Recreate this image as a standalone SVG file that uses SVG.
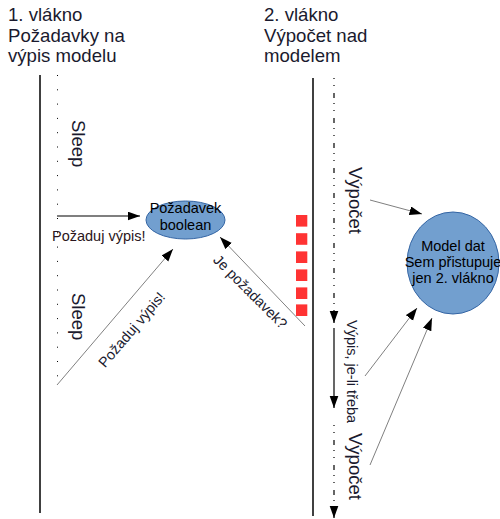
<svg xmlns="http://www.w3.org/2000/svg" width="500" height="519" viewBox="0 0 500 519">
<style>
text{font-family:"Liberation Sans",Arial,sans-serif;fill:#1a1a2e}
.h{font-size:18.6px}
.v{font-size:18.5px}
.s{font-size:14.5px}
.thread{stroke:#000;stroke-width:1.5;fill:none}
.gray{stroke:#808080;stroke-width:1;fill:none}
.blk{stroke:#000;stroke-width:1.2;fill:none}
.node{fill:#729fcf;stroke:#3465a4;stroke-width:1}
.sq{fill:#ff3333}
</style>
<defs>
<marker id="ah" markerUnits="userSpaceOnUse" markerWidth="13" markerHeight="10" refX="12.5" refY="4.5" orient="auto">
<path d="M0,0 L12.5,4.5 L0,9 z" fill="#000"/>
</marker>
</defs>
<g id="headings">
<text class="h" x="8" y="21">1. vlákno</text>
<text class="h" x="8" y="41.5">Požadavky na</text>
<text class="h" x="8" y="62">výpis modelu</text>
<text class="h" x="264" y="21">2. vlákno</text>
<text class="h" x="264" y="41.5">Výpočet nad</text>
<text class="h" x="264" y="62">modelem</text>
</g>
<g id="threads">
<line class="thread" x1="40" y1="75" x2="40" y2="513"/>
<line x1="57.5" y1="75" x2="57.5" y2="385" stroke="#000" stroke-width="1" stroke-dasharray="1 13.3"/>
<line class="thread" x1="313" y1="78" x2="313" y2="516"/>
<line x1="334" y1="78" x2="334" y2="323" stroke="#000" stroke-width="1.2" stroke-dasharray="1 6 1 7 5 5" marker-end="url(#ah)"/>
<line class="blk" x1="334" y1="328" x2="334" y2="408" marker-end="url(#ah)"/>
<line x1="334" y1="425" x2="334" y2="518" stroke="#000" stroke-width="1.2" stroke-dasharray="1 6 1 7 5 5" marker-end="url(#ah)"/>
</g>
<g id="labels">
<text class="v" transform="translate(72,120) rotate(90)">Sleep</text>
<text class="v" transform="translate(72,293) rotate(90)">Sleep</text>
<text class="v" transform="translate(349,167) rotate(90)">Výpočet</text>
<text class="s" transform="translate(347,320) rotate(90)">Výpis, je-li třeba</text>
<text class="v" transform="translate(349,433) rotate(90)">Výpočet</text>
<text class="s" x="52" y="241" style="fill:#2b1620">Požaduj výpis!</text>
<text class="s" text-anchor="middle" transform="translate(135.4,333) rotate(-49.5)">Požaduj výpis!</text>
<text class="s" text-anchor="middle" transform="translate(246.8,295.2) rotate(45)">Je požadavek?</text>
</g>
<g id="lock">
<rect class="sq" x="296" y="215" width="11.3" height="11.6"/>
<rect class="sq" x="296" y="233.2" width="11.3" height="11.6"/>
<rect class="sq" x="296" y="251.4" width="11.3" height="11.6"/>
<rect class="sq" x="296" y="269.4" width="11.3" height="11.6"/>
<rect class="sq" x="296" y="287.4" width="11.3" height="11.6"/>
<rect class="sq" x="296" y="304.4" width="11.3" height="11.6"/>
</g>
<g id="connectors">
<line class="blk" x1="57" y1="216" x2="140" y2="216" marker-end="url(#ah)"/>
<line class="gray" x1="57" y1="385" x2="173" y2="249" marker-end="url(#ah)"/>
<line class="gray" x1="305" y1="326" x2="220" y2="237" marker-end="url(#ah)"/>
<line class="gray" x1="370" y1="200" x2="422" y2="214" marker-end="url(#ah)"/>
<line class="gray" x1="365" y1="376" x2="417" y2="308" marker-end="url(#ah)"/>
<line class="gray" x1="370" y1="465" x2="432" y2="318" marker-end="url(#ah)"/>
</g>
<g id="node-pozadavek">
<ellipse class="node" cx="185.5" cy="220" rx="39.5" ry="19"/>
<text class="s" x="185.5" y="213" text-anchor="middle" style="fill:#000">Požadavek</text>
<text class="s" x="185.5" y="230" text-anchor="middle" style="fill:#000">boolean</text>
</g>
<g id="node-model">
<ellipse class="node" cx="453" cy="263" rx="46" ry="51"/>
<text class="s" x="453" y="251" text-anchor="middle" style="fill:#000">Model dat</text>
<text class="s" x="453" y="267" text-anchor="middle" style="fill:#000">Sem přistupuje</text>
<text class="s" x="453" y="283" text-anchor="middle" style="fill:#000">jen 2. vlákno</text>
</g>
</svg>
